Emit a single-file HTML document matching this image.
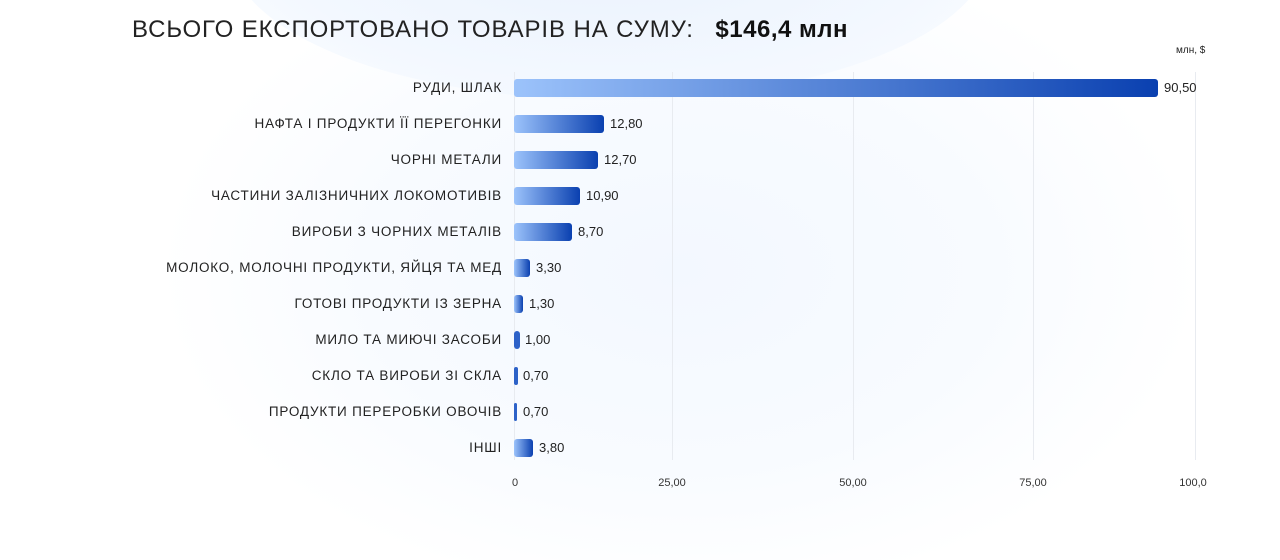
<!DOCTYPE html>
<html><head><meta charset="utf-8"><style>
body{margin:0;width:1280px;height:500px;overflow:hidden;background:#fff;font-family:"Liberation Sans","DejaVu Sans",sans-serif;position:relative}
.bg{position:absolute;left:120px;top:-60px;width:1160px;height:620px;background:radial-gradient(ellipse 520px 330px at 560px 330px,#f3f8ff 0%,#f8fbff 60%,rgba(255,255,255,0) 100%)}
.bg2{position:absolute;left:230px;top:-200px;width:760px;height:300px;border-radius:50%;background:radial-gradient(ellipse at center,#eaf2fd 0%,#f3f8ff 60%,rgba(255,255,255,0) 100%)}
.title{position:absolute;left:132px;top:16px;font-size:24px;color:#222;letter-spacing:0.9px}
.title b{font-weight:700;margin-left:14px;color:#111;letter-spacing:0.5px}
.unit{position:absolute;left:1176px;top:45px;font-size:10px;color:#222}
.grid{position:absolute;top:72px;width:1px;height:388px;background:#e8ebf0}
.lab{position:absolute;right:778px;font-size:13.5px;color:#222;white-space:nowrap;letter-spacing:0.8px}
.bar{position:absolute;left:514px;height:18px;border-radius:3px;background:linear-gradient(90deg,#9cc3fb,#0a40b0)}
.val{position:absolute;font-size:13px;color:#222}
.tick{position:absolute;top:477px;font-size:11px;color:#333;transform:translateX(-50%)}
</style></head><body>
<div class="bg"></div><div class="bg2"></div>
<div class="title">ВСЬОГО ЕКСПОРТОВАНО ТОВАРІВ НА СУМУ: <b>$146,4 млн</b></div>
<div class="unit">млн, $</div>
<div class="grid" style="left:514px"></div><div class="grid" style="left:672px"></div><div class="grid" style="left:853px"></div><div class="grid" style="left:1033px"></div><div class="grid" style="left:1195px"></div>

<div class="lab" style="top:80px">РУДИ, ШЛАК</div><div class="bar" style="top:79px;width:644px"></div><div class="val" style="left:1164px;top:80px">90,50</div>
<div class="lab" style="top:116px">НАФТА І ПРОДУКТИ ЇЇ ПЕРЕГОНКИ</div><div class="bar" style="top:115px;width:90px"></div><div class="val" style="left:610px;top:116px">12,80</div>
<div class="lab" style="top:152px">ЧОРНІ МЕТАЛИ</div><div class="bar" style="top:151px;width:84px"></div><div class="val" style="left:604px;top:152px">12,70</div>
<div class="lab" style="top:188px">ЧАСТИНИ ЗАЛІЗНИЧНИХ ЛОКОМОТИВІВ</div><div class="bar" style="top:187px;width:66px"></div><div class="val" style="left:586px;top:188px">10,90</div>
<div class="lab" style="top:224px">ВИРОБИ З ЧОРНИХ МЕТАЛІВ</div><div class="bar" style="top:223px;width:58px"></div><div class="val" style="left:578px;top:224px">8,70</div>
<div class="lab" style="top:260px">МОЛОКО, МОЛОЧНІ ПРОДУКТИ, ЯЙЦЯ ТА МЕД</div><div class="bar" style="top:259px;width:16px"></div><div class="val" style="left:536px;top:260px">3,30</div>
<div class="lab" style="top:296px">ГОТОВІ ПРОДУКТИ ІЗ ЗЕРНА</div><div class="bar" style="top:295px;width:9px"></div><div class="val" style="left:529px;top:296px">1,30</div>
<div class="lab" style="top:332px">МИЛО ТА МИЮЧІ ЗАСОБИ</div><div class="bar" style="top:331px;width:6px;background:#2d62c8"></div><div class="val" style="left:525px;top:332px">1,00</div>
<div class="lab" style="top:368px">СКЛО ТА ВИРОБИ ЗІ СКЛА</div><div class="bar" style="top:367px;width:4px;border-radius:2px;background:#2d62c8"></div><div class="val" style="left:523px;top:368px">0,70</div>
<div class="lab" style="top:404px">ПРОДУКТИ ПЕРЕРОБКИ ОВОЧІВ</div><div class="bar" style="top:403px;width:3px;border-radius:2px;background:#2d62c8"></div><div class="val" style="left:523px;top:404px">0,70</div>
<div class="lab" style="top:440px">ІНШІ</div><div class="bar" style="top:439px;width:19px"></div><div class="val" style="left:539px;top:440px">3,80</div>

<div class="tick" style="left:515px">0</div><div class="tick" style="left:672px">25,00</div><div class="tick" style="left:853px">50,00</div><div class="tick" style="left:1033px">75,00</div><div class="tick" style="left:1193px">100,0</div>
</body></html>
